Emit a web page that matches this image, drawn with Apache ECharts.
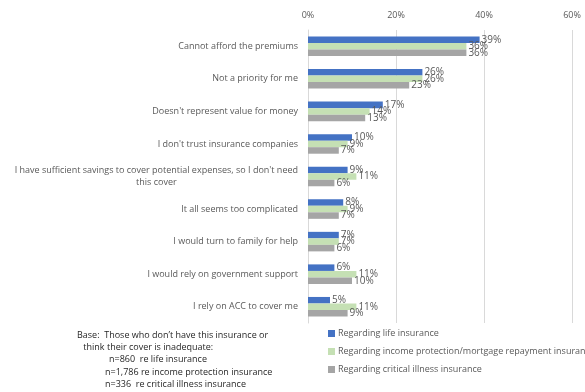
<!DOCTYPE html>
<html>
<head>
<meta charset="utf-8">
<script src="https://cdn.jsdelivr.net/npm/echarts@6/dist/echarts.min.js"></script>
<style>html,body{margin:0;padding:0;background:#fff;}#c{width:585px;height:392px;}</style>
</head>
<body>
<div id="c"></div>
<script>
const categories = [
  "Cannot afford the premiums",
  "Not a priority for me",
  "Doesn't represent value for money",
  "I don't trust insurance companies",
  "I have sufficient savings to cover potential expenses, so I don't need\nthis cover",
  "It all seems too complicated",
  "I would turn to family for help",
  "I would rely on government support",
  "I rely on ACC to cover me"
];
const seriesNames = [
  "Regarding life insurance",
  "Regarding income protection/mortgage repayment insurance",
  "Regarding critical illness insurance"
];
const lifeValues = [39, 26, 17, 10, 9, 8, 7, 6, 5];
const incomeValues = [36, 26, 14, 9, 11, 9, 7, 11, 11];
const illnessValues = [36, 23, 13, 7, 6, 7, 6, 10, 9];
const colors = ["#4472c4", "#c5e0b4", "#a5a5a5"];
const baseNote = [
  "Base:  Those who don\u2019t have this insurance or",
  " think their cover is inadequate:",
  "n=860  re life insurance",
  "n=1,786 re income protection insurance",
  "n=336  re critical illness insurance"
];
const FONT = "Open Sans";
const chart = echarts.init(document.getElementById('c'));
const allValues = [lifeValues, incomeValues, illnessValues];
const noteX = [77, 81, 109, 105, 105];
const noteY = [335, 347, 359, 372, 384];
chart.setOption({
  animation: false,
  textStyle: {fontFamily: FONT},
  grid: {left: 308, right: 13, top: 30, bottom: 69, containLabel: false},
  legend: {
    orient: 'vertical', left: 323, top: 324,
    itemWidth: 7, itemHeight: 7, itemGap: 9,
    icon: 'rect',
    textStyle: {fontFamily: FONT, fontSize: 9, color: '#595959', padding: [0,0,0,-2]},
    data: seriesNames
  },
  xAxis: {
    type: 'value', position: 'top', min: 0, max: 60, interval: 20,
    axisLabel: {formatter: '{value}%', fontSize: 9, color: '#595959', fontFamily: FONT, margin: 10},
    axisLine: {show: false}, axisTick: {show: false},
    splitLine: {lineStyle: {color: '#d9d9d9', width: 1}}
  },
  yAxis: {
    type: 'category', inverse: true, data: categories,
    axisLine: {show: true, lineStyle: {color: '#d9d9d9'}},
    axisTick: {show: false},
    axisLabel: {
      fontSize: 9, color: '#595959', fontFamily: FONT, margin: 10, lineHeight: 12,
      formatter: function (v) {
        if (v.indexOf('\n') >= 0) {
          return v.split('\n').map(s => '{c|' + s + '}').join('\n');
        }
        return v;
      },
      rich: {c: {align: 'center', fontSize: 9, color: '#595959', fontFamily: FONT, lineHeight: 12}}
    }
  },
  series: seriesNames.map((n, i) => ({
    name: n, type: 'bar', data: allValues[i],
    barGap: '0%', barCategoryGap: '40%',
    itemStyle: {color: colors[i]},
    label: {show: true, position: 'right', distance: 2, formatter: '{c}%',
      fontSize: 10, color: '#595959', fontFamily: FONT}
  })),
  graphic: baseNote.map((t, i) => ({
    type: 'text', left: noteX[i], top: noteY[i] - 4,
    style: {text: t, fontSize: 9, fill: '#262626', fontFamily: FONT}
  }))
});
</script>
</body>
</html>
